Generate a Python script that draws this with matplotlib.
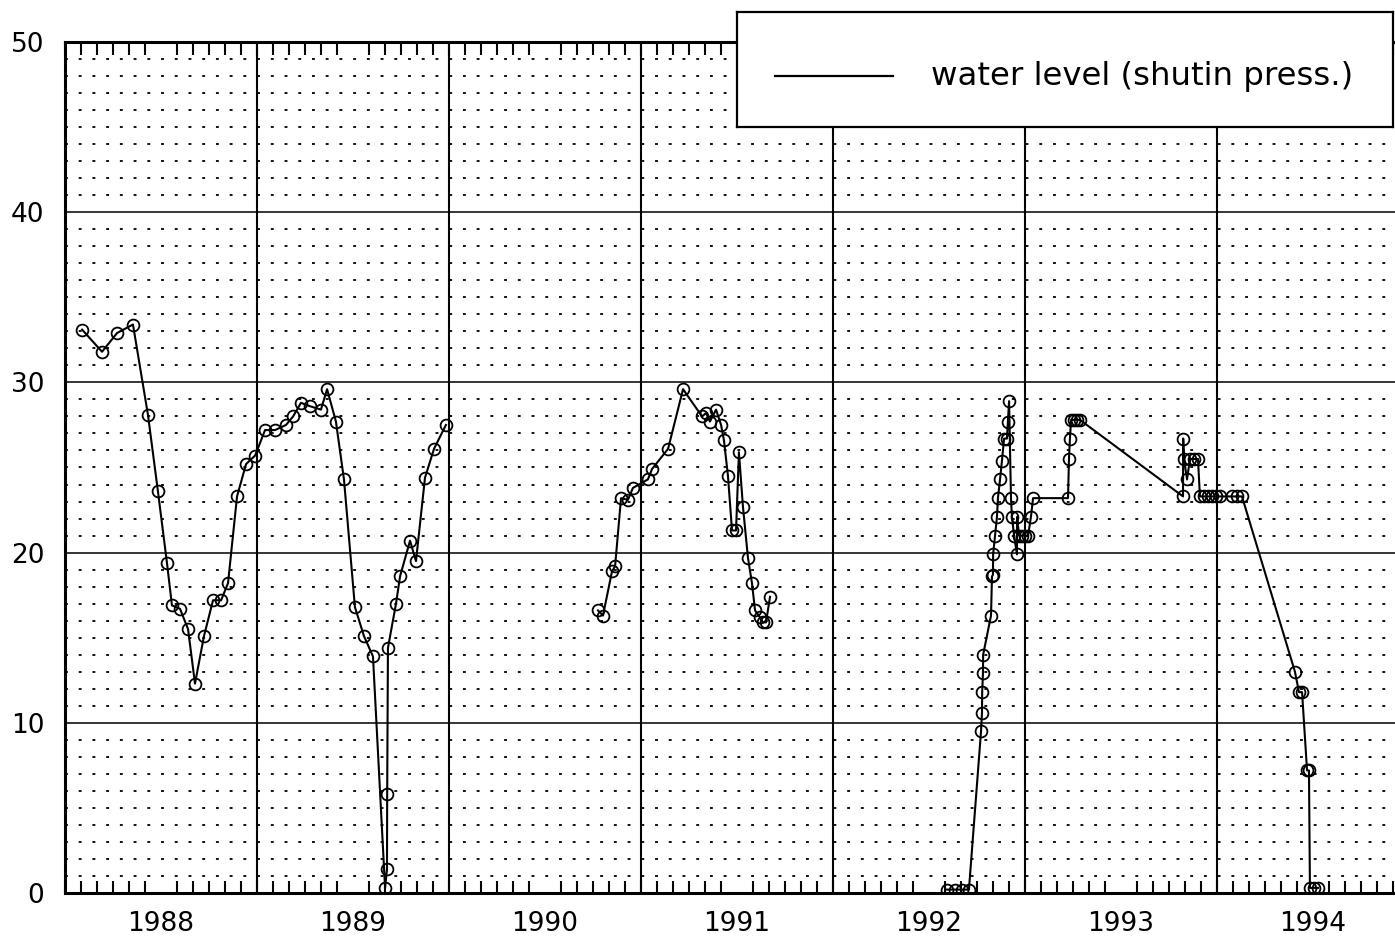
"""
Water level (shut-in pressure) 1988-1994
"""
import matplotlib
matplotlib.use('Agg')
import matplotlib.pyplot as plt
import numpy as np
from matplotlib.ticker import FixedLocator

# --- data (decimal year, level) ---
t_1988 = [1988.089, 1988.193, 1988.271, 1988.354, 1988.432, 1988.484, 1988.531,
          1988.557, 1988.599, 1988.641, 1988.677, 1988.724, 1988.771, 1988.813,
          1988.849, 1988.896, 1988.943, 1988.990, 1989.042, 1989.094, 1989.151,
          1989.188, 1989.229, 1989.276, 1989.333, 1989.365, 1989.411, 1989.453,
          1989.510, 1989.557, 1989.604, 1989.667, 1989.677, 1989.678, 1989.682,
          1989.724, 1989.745, 1989.797, 1989.828, 1989.875, 1989.922, 1989.984]
v_1988 = [33.1, 31.8, 32.9, 33.4, 28.1, 23.6, 19.4,
          16.9, 16.7, 15.5, 12.3, 15.1, 17.2, 17.2,
          18.2, 23.3, 25.2, 25.7, 27.2, 27.2, 27.5,
          28.0, 28.8, 28.6, 28.4, 29.6, 27.7, 24.3,
          16.8, 15.1, 13.9, 0.3, 1.4, 5.8, 14.4,
          17.0, 18.6, 20.7, 19.5, 24.4, 26.1, 27.5]

t_1990 = [1990.776, 1990.802, 1990.849, 1990.865, 1990.896, 1990.932, 1990.958,
          1991.036, 1991.057, 1991.141, 1991.219, 1991.318, 1991.339, 1991.359,
          1991.391, 1991.417, 1991.432, 1991.453, 1991.474, 1991.495, 1991.510,
          1991.531, 1991.557, 1991.578, 1991.594, 1991.620, 1991.635, 1991.651,
          1991.672]
v_1990 = [16.6, 16.3, 18.9, 19.2, 23.2, 23.1, 23.8,
          24.3, 24.9, 26.1, 29.6, 28.0, 28.2, 27.7,
          28.4, 27.5, 26.6, 24.5, 21.3, 21.3, 25.9,
          22.7, 19.7, 18.2, 16.6, 16.2, 15.9, 15.9,
          17.4]

t_1992 = [1992.594, 1992.635, 1992.672, 1992.708, 1992.771, 1992.776, 1992.777,
          1992.781, 1992.782, 1992.823, 1992.828, 1992.833, 1992.834, 1992.844,
          1992.854, 1992.859, 1992.870, 1992.880, 1992.891, 1992.906, 1992.911,
          1992.917, 1992.927, 1992.932, 1992.943, 1992.958, 1992.959, 1992.969,
          1992.984, 1993.000, 1993.016, 1993.031, 1993.042, 1993.224, 1993.229,
          1993.234, 1993.240, 1993.255, 1993.271, 1993.286, 1993.823, 1993.824,
          1993.828, 1993.844, 1993.859, 1993.880, 1993.901, 1993.911, 1993.932,
          1993.953, 1993.974, 1993.995, 1994.016, 1994.078, 1994.104, 1994.130,
          1994.406, 1994.427, 1994.443, 1994.469, 1994.479, 1994.484, 1994.505,
          1994.526]
v_1992 = [0.2, 0.2, 0.2, 0.2, 9.5, 10.6, 11.8,
          12.9, 14.0, 16.3, 18.6, 18.7, 19.9, 21.0,
          22.1, 23.2, 24.3, 25.4, 26.7, 26.7, 27.7,
          28.9, 23.2, 22.1, 21.0, 19.9, 22.1, 21.0,
          21.0, 21.0, 21.0, 22.1, 23.2, 23.2, 25.5,
          26.7, 27.8, 27.8, 27.8, 27.8, 23.3, 26.7,
          25.5, 24.3, 25.5, 25.5, 25.5, 23.3, 23.3,
          23.3, 23.3, 23.3, 23.3, 23.3, 23.3, 23.3,
          13.0, 11.8, 11.8, 7.2, 7.2, 0.3, 0.3,
          0.3]

years = [1988, 1989, 1990, 1991, 1992, 1993, 1994]
legend_label = 'water level (shutin press.)'

plt.rcParams['font.family'] = ['DejaVu Sans']

fig = plt.figure(figsize=(13.95, 9.38), dpi=100)
ax = fig.add_axes([65 / 1395, 45 / 938, 1 - 65 / 1395, 851 / 938])

x0 = years[0]
x1 = x0 + (1395 - 65) / 192
ax.set_xlim(x0, x1)
ax.set_ylim(0, 50)

# Сетка: пунктир каждую единицу, сплошные линии по годам и каждые 10
for y in np.arange(1, 50):
    if y % 10 == 0:
        ax.axhline(y, color='black', lw=1.1, zorder=1)
    else:
        ax.axhline(y, color='black', lw=1.3, ls=(0, (1.6, 6.0)), zorder=1)
for yr in years[1:]:
    ax.axvline(yr, color='black', lw=1.5, zorder=1)

for t, v in [(t_1988, v_1988), (t_1990, v_1990), (t_1992, v_1992)]:
    ax.plot(t, v, color='black', lw=1.5, marker='o', ms=8.5, mfc='none',
            mec='black', mew=1.3, zorder=3)

# Оси и подписи
ax.set_yticks([0, 10, 20, 30, 40, 50])
ax.set_yticklabels(['0', '10', '20', '30', '40', '50'])
ax.tick_params(axis='y', length=0, pad=15, labelsize=19)

ax.xaxis.set_major_locator(FixedLocator([y + 0.5 for y in years]))
ax.set_xticklabels([str(y) for y in years])
ax.xaxis.set_minor_locator(FixedLocator(np.arange(x0, x1, 1 / 12)))
ax.tick_params(axis='x', which='major', length=0, pad=13, labelsize=19)
ax.tick_params(axis='x', which='minor', direction='in', length=9, width=1.5,
               top=True, bottom=True)

for side in ['left', 'bottom', 'top']:
    ax.spines[side].set_linewidth(2.2)
ax.spines['right'].set_visible(False)

# Легенда в рамке
lax = fig.add_axes([737 / 1395, (938 - 127) / 938, (1393 - 737) / 1395, 115 / 938])
lax.set_xlim(0, 1)
lax.set_ylim(0, 1)
lax.set_xticks([])
lax.set_yticks([])
for s in lax.spines.values():
    s.set_linewidth(1.6)
lax.plot([0.058, 0.238], [0.44, 0.44], color='black', lw=1.6)
lax.text(0.295, 0.44, legend_label, fontsize=23.3, va='center', ha='left')

fig.savefig('out.png', dpi=100)
